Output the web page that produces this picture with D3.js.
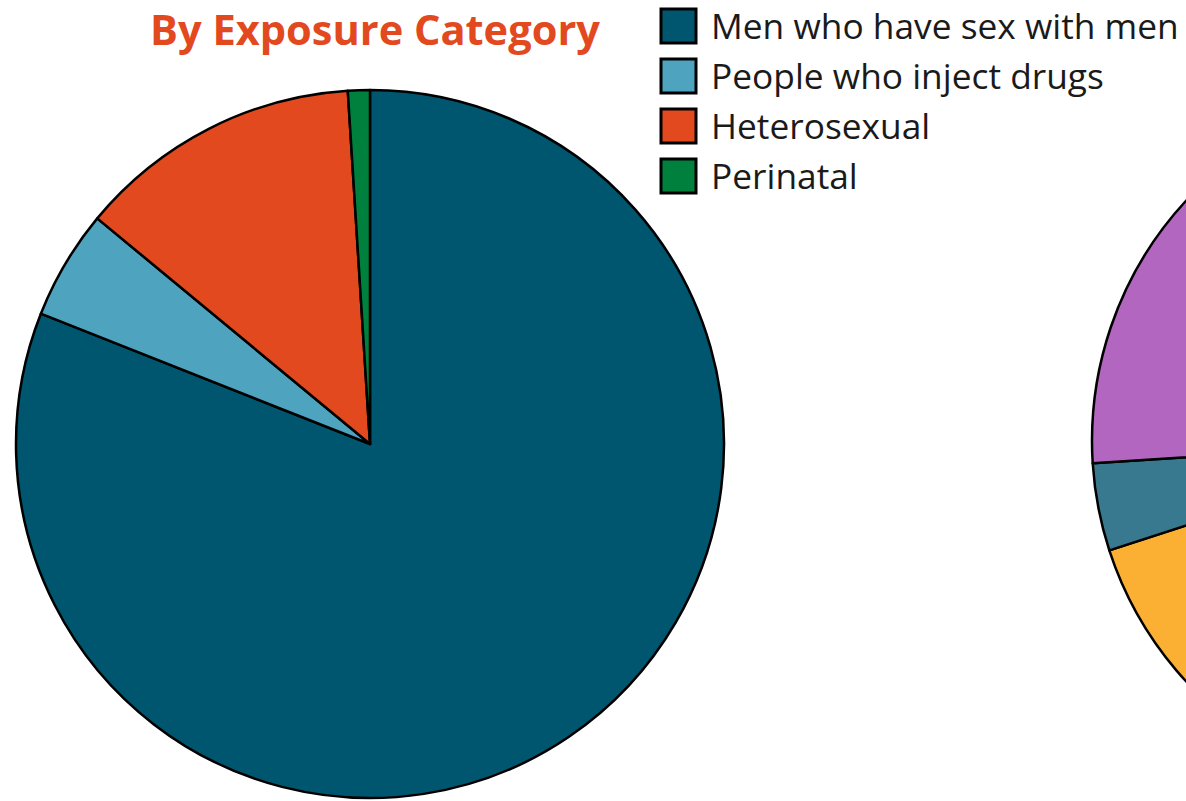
<!DOCTYPE html>
<html>
<head>
<meta charset="utf-8">
<script src="https://cdn.jsdelivr.net/npm/d3@7"></script>
<style>
  html, body { margin: 0; padding: 0; background: #ffffff; overflow: hidden; }
  svg { display: block; }
</style>
</head>
<body>
<svg id="chart" width="1186" height="801"></svg>
<script>
// Data: HIV diagnoses by exposure category (percent)
const exposureCategories = ["Men who have sex with men", "People who inject drugs", "Heterosexual", "Perinatal"];
const exposureValues = [81, 5, 13, 1];
const exposureColors = ["#00566f", "#4ea3bf", "#e2491e", "#00803d"];
const exposureTitle = "By Exposure Category";

// Second chart (mostly outside the visible frame)
const raceCategories = ["Black/African American", "Hispanic/Latino", "Asian", "White"];
const raceValues = [44, 26, 4, 26];
const raceColors = ["#8a8a8a", "#fbb034", "#38798f", "#b366c0"];

const svg = d3.select("#chart");
const W = 1186, H = 801;

function drawPie(cx, cy, r, cats, vals, colors) {
  const data = cats.map((c, i) => ({ cat: c, value: vals[i], color: colors[i] }));
  const pie = d3.pie().sort(null).value(d => d.value);
  const arc = d3.arc().innerRadius(0).outerRadius(r);
  const g = svg.append("g").attr("transform", `translate(${cx},${cy})`);
  g.selectAll("path").data(pie(data)).join("path")
    .attr("d", arc)
    .attr("fill", d => d.data.color)
    .attr("stroke", "#000")
    .attr("stroke-width", 2.5)
    .attr("stroke-linejoin", "round");
}

drawPie(370, 444, 354, exposureCategories, exposureValues, exposureColors);
drawPie(1446, 441, 354, raceCategories, raceValues, raceColors);

// Title
const title = svg.append("text")
  .attr("x", 375).attr("y", 45)
  .attr("text-anchor", "middle")
  .attr("font-family", "'Open Sans', sans-serif")
  .attr("font-weight", 700)
  .attr("font-size", 40)
  .attr("fill", "#e2491e")
  .text(exposureTitle);
(function fit(sel, target) {
  const w = sel.node().getComputedTextLength();
  const fs = +sel.attr("font-size");
  sel.attr("font-size", fs * target / w);
})(title, 450);

// Legend
const legend = svg.append("g");
const rows = legend.selectAll("g").data(exposureCategories).join("g")
  .attr("transform", (d, i) => `translate(661, ${9 + i * 50})`);
rows.append("rect")
  .attr("width", 35).attr("height", 34)
  .attr("fill", (d, i) => exposureColors[i])
  .attr("stroke", "#000").attr("stroke-width", 3);
const labels = rows.append("text")
  .attr("x", 50).attr("y", 30)
  .attr("font-family", "'Open Sans', sans-serif")
  .attr("font-size", 32)
  .attr("fill", "#1a1a1a")
  .text(d => d);
// fit font size so the first label spans the same width as in the reference
const w0 = labels.nodes()[0].getComputedTextLength();
labels.attr("font-size", 32 * 468 / w0);
</script>
</body>
</html>
